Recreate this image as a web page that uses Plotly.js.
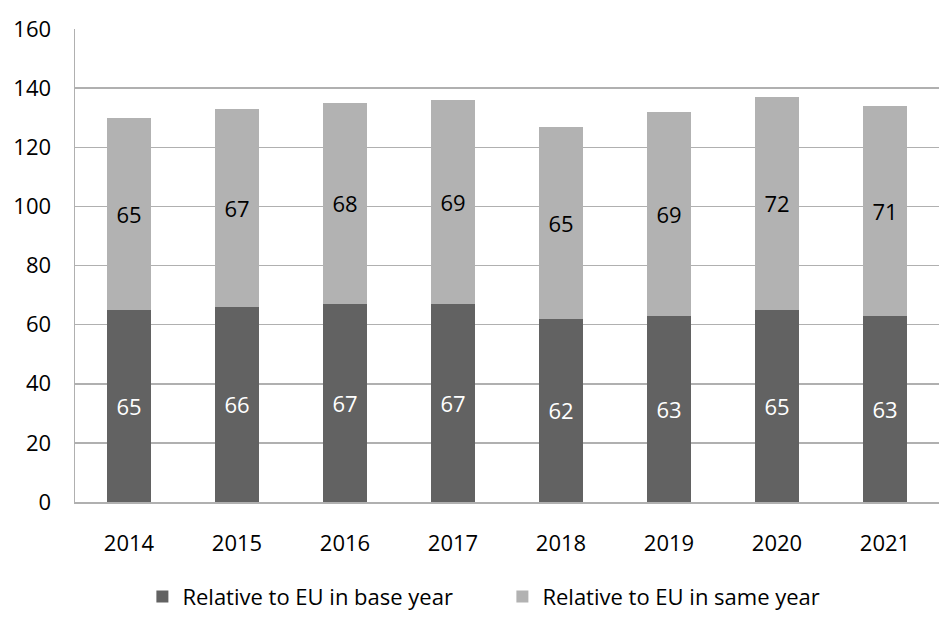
<!DOCTYPE html>
<html><head><meta charset="utf-8">
<script src="https://cdn.plot.ly/plotly-3.0.1.min.js"></script>
<style>html,body{margin:0;padding:0;background:#fff}#chart{width:939px;height:618px}</style>
</head><body><div id="chart"></div>
<script>
const years = ['2014','2015','2016','2017','2018','2019','2020','2021'];
const baseYear = [65,66,67,67,62,63,65,63];
const sameYear = [65,67,68,69,65,69,72,71];
const seriesNames = ['Relative to EU in base year','Relative to EU in same year'];
const yTicks = [0,20,40,60,80,100,120,140,160];

const font = '"Open Sans", Lato, sans-serif';
const data = [
  {type:'bar', x:years, y:baseYear, name:seriesNames[0], marker:{color:'#626262'},
   text:baseYear.map(String), textposition:'inside', insidetextanchor:'middle',
   textfont:{color:'#ffffff', size:22, family:font}, constraintext:'none', hoverinfo:'none'},
  {type:'bar', x:years, y:sameYear, name:seriesNames[1], marker:{color:'#b2b2b2'},
   text:sameYear.map(String), textposition:'inside', insidetextanchor:'middle',
   textfont:{color:'#000000', size:22, family:font}, constraintext:'none', hoverinfo:'none'}
];
const layout = {
  width:939, height:618, barmode:'stack', bargap:0.59,
  margin:{l:75, r:0, t:29, b:116, pad:0},
  paper_bgcolor:'#fff', plot_bgcolor:'#fff',
  font:{family:font, size:22, color:'#000'},
  showlegend:true,
  legend:{orientation:'h', x:0.078, xanchor:'left', y:-0.2, yanchor:'middle',
          font:{size:22, color:'#000'}, traceorder:'normal', itemwidth:30,
          entrywidth:315, entrywidthmode:'pixels'},
  xaxis:{type:'category', showgrid:false, showline:true, linecolor:'#b0b0b0', linewidth:1.5,
         ticks:'', ticklabelstandoff:21, tickfont:{size:22}},
  yaxis:{range:[0,160], tickvals:yTicks, showgrid:true, gridcolor:'#b0b0b0', gridwidth:1.5,
         showline:true, linecolor:'#b0b0b0', linewidth:1.5, ticks:'', ticklabelstandoff:18,
         zeroline:false, tickfont:{size:22}}
};
Plotly.newPlot('chart', data, layout, {displayModeBar:false, staticPlot:true});
</script></body></html>
